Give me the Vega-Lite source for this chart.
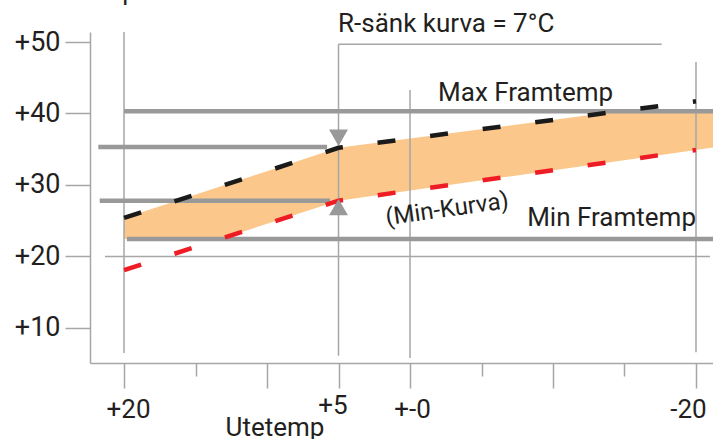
{
  "$schema": "https://vega.github.io/schema/vega-lite/v6.json",
  "autosize": {"type": "none"},
  "width": 623,
  "height": 331,
  "padding": {"left": 90, "top": 32, "right": 0, "bottom": 76},
  "background": "white",
  "config": {
    "view": {"stroke": null},
    "font": "Roboto"
  },
  "datasets": {
    "band": [
      {"t": 20, "top": 25.4, "bottom": 22.45},
      {"t": 13.27, "top": 29.8, "bottom": 22.45},
      {"t": 5, "top": 35.2, "bottom": 27.8},
      {"t": -14.6, "top": 40.3, "bottom": 33.37},
      {"t": -20, "top": 40.3, "bottom": 34.9},
      {"t": -21.19, "top": 40.3, "bottom": 35.24}
    ],
    "blackCurve": [
      {"t": 20, "v": 25.4},
      {"t": 5, "v": 35.2},
      {"t": -20, "v": 41.7}
    ],
    "redCurve": [
      {"t": 20, "v": 18.1},
      {"t": 5, "v": 27.8},
      {"t": -20, "v": 34.9}
    ],
    "vlines": [
      {"t": 20, "v1": 51.4, "v2": 6.5},
      {"t": 5, "v1": 49.7, "v2": 6.1},
      {"t": 0, "v1": 43.3, "v2": 5.8},
      {"t": -20, "v1": 47.2, "v2": 6.6}
    ],
    "hthin": [
      {"t1": 21.33, "t2": -20.98, "v": 20},
      {"t1": 5, "t2": -17.6, "v": 49.7}
    ],
    "hthick": [
      {"name": "max", "t1": 20, "t2": -21.19, "v": 40.3},
      {"name": "min", "t1": 19.8, "t2": -21.19, "v": 22.45},
      {"name": "upper", "t1": 21.8, "t2": 5.8, "v": 35.3},
      {"name": "lower", "t1": 21.7, "t2": 5.6, "v": 27.8}
    ],
    "marks": [
      {"t": 5, "v": 36.6, "shape": "triangle-down"},
      {"t": 5, "v": 26.9, "shape": "triangle-up"}
    ],
    "labels": [
      {"label": "R-sänk kurva = 7°C", "t": 5.03, "v": 51.4, "kind": "left"},
      {"label": "Max Framtemp", "t": -1.96, "v": 41.75, "kind": "left"},
      {"label": "Framtemp", "t": 19.1, "v": 55.9, "kind": "right"},
      {"label": "Min Framtemp", "t": -20, "v": 24.3, "kind": "right"},
      {"label": "Utetemp", "t": 9.44, "v": -5.1, "kind": "center"},
      {"label": "(Min-Kurva)", "t": -2.6, "v": 26.55, "kind": "tilted"}
    ]
  },
  "encoding": {
    "x": {
      "field": "t",
      "type": "quantitative",
      "scale": {"domain": [-21.19, 22.38], "reverse": true, "nice": false, "zero": false}
    }
  },
  "layer": [
    {
      "data": {"name": "band"},
      "mark": {"type": "area", "color": "#fbc78b", "opacity": 1},
      "encoding": {
        "x": {
          "field": "t",
          "type": "quantitative",
          "title": null,
          "axis": {
            "values": [20, 15, 10, 5, 0, -5, -10, -15, -20],
            "domainColor": "#a6a6a6",
            "domainWidth": 1.5,
            "tickColor": "#a6a6a6",
            "tickWidth": 1.5,
            "tickSize": {"condition": {"test": "datum.value == 15 || datum.value == -5 || datum.value == -15", "value": 13}, "value": 25},
            "labelExpr": "datum.value == 20 ? '+20' : datum.value == 5 ? '+5' : datum.value == 0 ? '+-0' : datum.value == -20 ? '-20' : ''",
            "labelFont": "Roboto",
            "labelFontSize": 26,
            "labelColor": "#231f20",
            "labelPadding": {"condition": {"test": "datum.value == 5", "value": 4}, "value": 8},
            "labelOffset": {"condition": [{"test": "datum.value == 5", "value": -6}, {"test": "datum.value == -20", "value": -8}, {"test": "datum.value == 20", "value": 4}], "value": 2},
            "labelOverlap": false,
            "labelFlush": false,
            "grid": false
          }
        },
        "y": {
          "field": "top",
          "type": "quantitative",
          "title": null,
          "scale": {"domain": [5.1, 51.4], "nice": false, "zero": false},
          "axis": {
            "values": [10, 20, 30, 40, 50],
            "domainColor": "#a6a6a6",
            "domainWidth": 1.5,
            "tickColor": "#a6a6a6",
            "tickWidth": 1.5,
            "tickSize": 25,
            "labelExpr": "'+' + datum.value",
            "labelFont": "Roboto",
            "labelFontSize": 27,
            "labelColor": "#231f20",
            "labelPadding": 5,
            "grid": false
          }
        },
        "y2": {"field": "bottom"}
      }
    },
    {
      "data": {"name": "vlines"},
      "mark": {"type": "rule", "color": "#a6a6a6", "strokeWidth": 1.5},
      "encoding": {
        "y": {"field": "v1", "type": "quantitative"},
        "y2": {"field": "v2"}
      }
    },
    {
      "data": {"name": "hthin"},
      "mark": {"type": "rule", "color": "#a6a6a6", "strokeWidth": 1.5},
      "encoding": {
        "x": {"field": "t1", "type": "quantitative"},
        "x2": {"field": "t2"},
        "y": {"field": "v", "type": "quantitative"}
      }
    },
    {
      "data": {"name": "hthick"},
      "mark": {"type": "rule", "color": "#999999", "strokeWidth": 4.5},
      "encoding": {
        "x": {"field": "t1", "type": "quantitative"},
        "x2": {"field": "t2"},
        "y": {"field": "v", "type": "quantitative"}
      }
    },
    {
      "data": {"name": "blackCurve"},
      "mark": {"type": "line", "color": "#1a1a1a", "strokeWidth": 4.5, "strokeDash": [18, 35]},
      "encoding": {
        "y": {"field": "v", "type": "quantitative"}
      }
    },
    {
      "data": {"name": "redCurve"},
      "mark": {"type": "line", "color": "#ee1c24", "strokeWidth": 4.5, "strokeDash": [18, 35]},
      "encoding": {
        "y": {"field": "v", "type": "quantitative"}
      }
    },
    {
      "data": {"name": "marks"},
      "mark": {"type": "point", "filled": true, "color": "#999999", "opacity": 1, "size": 360},
      "encoding": {
        "y": {"field": "v", "type": "quantitative"},
        "shape": {"field": "shape", "type": "nominal", "scale": null, "legend": null}
      }
    },
    {
      "data": {"name": "labels"},
      "transform": [{"filter": "datum.kind == 'left'"}],
      "mark": {"type": "text", "align": "left", "baseline": "alphabetic", "fontSize": 26, "font": "Roboto", "color": "#231f20"},
      "encoding": {"y": {"field": "v", "type": "quantitative"}, "text": {"field": "label"}}
    },
    {
      "data": {"name": "labels"},
      "transform": [{"filter": "datum.kind == 'right'"}],
      "mark": {"type": "text", "align": "right", "baseline": "alphabetic", "fontSize": 26, "font": "Roboto", "color": "#231f20"},
      "encoding": {"y": {"field": "v", "type": "quantitative"}, "text": {"field": "label"}}
    },
    {
      "data": {"name": "labels"},
      "transform": [{"filter": "datum.kind == 'center'"}],
      "mark": {"type": "text", "align": "center", "baseline": "alphabetic", "fontSize": 26, "font": "Roboto", "color": "#231f20"},
      "encoding": {"y": {"field": "v", "type": "quantitative"}, "text": {"field": "label"}}
    },
    {
      "data": {"name": "labels"},
      "transform": [{"filter": "datum.kind == 'tilted'"}],
      "mark": {"type": "text", "align": "center", "baseline": "middle", "angle": 352, "fontSize": 24, "font": "Roboto", "color": "#231f20"},
      "encoding": {"y": {"field": "v", "type": "quantitative"}, "text": {"field": "label"}}
    }
  ]
}
